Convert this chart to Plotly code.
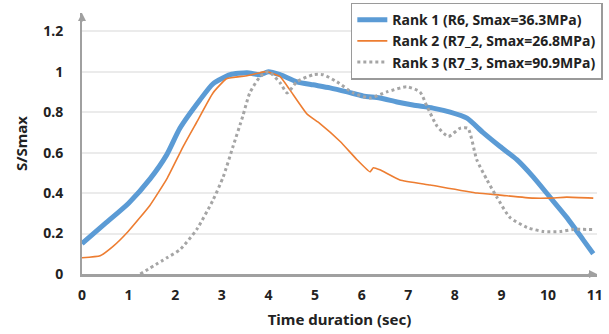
import plotly.graph_objects as go

# ---- data ----
r1_x = [0, 0.5, 1.0, 1.46, 1.82, 2.1, 2.53, 2.81, 3.18, 3.54, 3.82, 4.0, 4.25, 4.61, 4.96, 5.32, 5.69, 6.03,
        6.39, 6.76, 7.1, 7.53, 7.9, 8.26, 8.6, 8.97, 9.33, 9.68, 10.04, 10.4, 10.75, 10.97]
r1_y = [0.15, 0.25, 0.35, 0.47, 0.59, 0.72, 0.86, 0.94, 0.985, 0.995, 0.985, 1.0, 0.985, 0.95, 0.935, 0.92, 0.90, 0.88,
        0.87, 0.85, 0.835, 0.82, 0.80, 0.77, 0.70, 0.63, 0.565, 0.48, 0.38, 0.28, 0.17, 0.10]

r2_x = [0, 0.39, 0.66, 0.99, 1.46, 1.82, 2.17, 2.46, 2.81, 3.1, 3.54, 3.82, 3.96, 4.25, 4.46, 4.83, 5.1, 5.54,
        5.9, 6.18, 6.25, 6.39, 6.82, 7.47, 8.48, 8.97, 9.68, 10.04, 10.4, 10.97]
r2_y = [0.08, 0.09, 0.135, 0.21, 0.34, 0.47, 0.63, 0.75, 0.895, 0.965, 0.98, 0.995, 1.0, 0.975, 0.91, 0.79, 0.745, 0.655,
        0.565, 0.505, 0.525, 0.515, 0.465, 0.44, 0.40, 0.39, 0.375, 0.375, 0.38, 0.375]

r3_x = [1.25, 1.82, 2.1, 2.46, 2.81, 3.03, 3.24, 3.45, 3.6, 3.82, 4.0, 4.25, 4.4, 4.61, 4.96, 5.17, 5.47, 5.82,
        6.18, 6.54, 6.97, 7.25, 7.4, 7.62, 7.86, 8.11, 8.28, 8.47, 8.69, 8.9, 9.18, 9.55, 9.9, 10.26, 10.54, 10.97]
r3_y = [0, 0.08, 0.12, 0.22, 0.365, 0.48, 0.63, 0.78, 0.895, 0.975, 1.0, 0.945, 0.895, 0.95, 0.985, 0.985, 0.95, 0.895,
        0.87, 0.90, 0.925, 0.90, 0.83, 0.73, 0.68, 0.72, 0.72, 0.565, 0.465, 0.38, 0.28, 0.23, 0.21, 0.21, 0.22, 0.22]

names = ["Rank 1 (R6, Smax=36.3MPa)", "Rank 2 (R7_2, Smax=26.8MPa)", "Rank 3 (R7_3, Smax=90.9MPa)"]
x_ticks = list(range(0, 12))
y_ticks = [0, 0.2, 0.4, 0.6, 0.8, 1.0, 1.2]
y_tick_text = ["0", "0.2", "0.4", "0.6", "0.8", "1", "1.2"]

FONT = "Noto Sans"

fig = go.Figure()
fig.add_trace(go.Scatter(x=r1_x, y=r1_y, mode="lines", name=names[0],
                         line=dict(color="#5b9bd5", width=5, shape="spline", smoothing=0.6)))
fig.add_trace(go.Scatter(x=r2_x, y=r2_y, mode="lines", name=names[1],
                         line=dict(color="#ed7d31", width=1.6, shape="spline", smoothing=0.4)))
fig.add_trace(go.Scatter(x=r3_x, y=r3_y, mode="lines", name=names[2],
                         line=dict(color="#a5a5a5", width=3, dash="dot", shape="spline", smoothing=0.6)))

fig.update_layout(
    width=609, height=334,
    margin=dict(l=82, r=12, t=13, b=60, autoexpand=False),
    plot_bgcolor="white", paper_bgcolor="white",
    font=dict(family=FONT, size=14, color="#222222", weight="bold"),
    showlegend=True,
    legend=dict(x=0.522, y=1.04, xanchor="left", yanchor="top",
                bgcolor="white", bordercolor="#9a9a9a", borderwidth=1.5,
                font=dict(family=FONT, size=14, color="#222222", weight="bold"),
                tracegroupgap=0, itemwidth=30),
    xaxis=dict(range=[0, 11.05], tickvals=x_ticks, showgrid=False, zeroline=False, automargin=False,
               showline=True, linecolor="#a0a0a0", linewidth=2.5, ticks="",
               ticklabelstandoff=6,
               title=dict(text="Time duration (sec)", font=dict(size=15, weight="bold"), standoff=12)),
    yaxis=dict(range=[0, 1.29], tickvals=y_ticks, ticktext=y_tick_text, showgrid=True, automargin=False,
               gridcolor="#ebebeb", gridwidth=1.5, zeroline=False,
               showline=True, linecolor="#a0a0a0", linewidth=2, ticks="",
               ticklabelstandoff=14,
               title=dict(text="S/Smax", font=dict(size=15, weight="bold"), standoff=12)),
)

# arrow heads at axis ends
fig.add_annotation(x=1, y=0, xref="paper", yref="paper", ax=-10, ay=0, text="",
                   showarrow=True, arrowhead=2, arrowsize=0.8, arrowwidth=2, arrowcolor="#a0a0a0")
fig.add_annotation(x=0, y=1, xref="paper", yref="paper", ax=0, ay=10, text="",
                   showarrow=True, arrowhead=2, arrowsize=0.8, arrowwidth=2, arrowcolor="#a0a0a0")

fig.write_html("out.html")
